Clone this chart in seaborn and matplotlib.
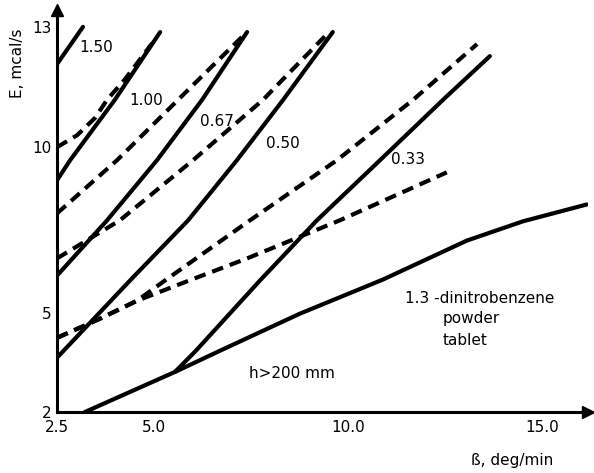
import numpy as np
import pandas as pd
import matplotlib
matplotlib.use("Agg")
import matplotlib.pyplot as plt
import seaborn as sns

# ---------------- data ----------------
# solid curves (labelled by h value)
s150_x = [2.50, 3.17]
s150_y = [12.07, 13.00]
s100_x = [2.50, 2.84, 3.99, 5.16]
s100_y = [9.00, 9.61, 11.18, 12.87]
s067_x = [2.50, 3.79, 5.08, 6.24, 7.40]
s067_y = [6.12, 7.79, 9.61, 11.18, 12.87]
s050_x = [2.50, 4.38, 5.88, 7.14, 8.33, 9.61]
s050_y = [3.64, 5.97, 7.79, 9.61, 11.18, 12.87]
s033_x = [5.54, 6.08, 7.73, 9.20, 10.83, 12.45, 13.66]
s033_y = [3.21, 3.85, 5.97, 7.79, 9.61, 11.18, 12.27]
base_x = [3.22, 5.54, 6.70, 8.76, 10.90, 13.07, 14.51, 16.16]
base_y = [2.00, 3.21, 3.85, 4.97, 6.00, 7.18, 7.76, 8.27]

# dashed curves
d1_x = [2.50, 3.02, 3.48, 3.79, 4.25, 4.64, 4.95]
d1_y = [10.00, 10.30, 10.73, 11.18, 11.69, 12.19, 12.59]
d2_x = [2.50, 4.05, 5.62, 7.29]
d2_y = [8.00, 9.61, 11.18, 12.77]
d3_x = [2.50, 4.12, 6.01, 7.81, 9.41]
d3_y = [6.64, 7.79, 9.61, 11.18, 12.77]
d4a_x = [2.50, 3.61, 4.56, 5.28, 7.40, 9.72, 11.68, 13.33]
d4a_y = [4.24, 4.82, 5.36, 5.97, 7.73, 9.61, 11.18, 12.57]
d4b_x = [2.50, 3.61, 4.56, 5.90, 7.40, 9.79, 12.55]
d4b_y = [4.24, 4.82, 5.36, 5.97, 6.64, 7.79, 9.24]

curve_labels = ["1.50", "1.00", "0.67", "0.50", "0.33"]
label_x = [3.50, 4.79, 6.62, 8.33, 11.55]
label_y = [12.49, 11.16, 10.63, 10.10, 9.64]

x_ticks = [2.5, 5.0, 10.0, 15.0]
x_ticklabels = ["2.5", "5.0", "10.0", "15.0"]
y_ticks = [2, 5, 10, 13]
y_ticklabels = ["2", "5", "10", "13"]

# ---------------- figure ----------------
sns.set_style("white")
plt.rcParams["font.family"] = ["DejaVu Sans"]
plt.rcParams["text.color"] = "black"

fig = plt.figure(figsize=(5.94, 4.73), dpi=100)
ax = fig.add_axes([57 / 594, 61 / 473, 531 / 594, 402 / 473])


def fwd(y):
    y = np.asarray(y, dtype=float)
    return np.where(y <= 10, y, 10 + (y - 10) * 40.0 / 33.0)


def inv(f):
    f = np.asarray(f, dtype=float)
    return np.where(f <= 10, f, 10 + (f - 10) * 33.0 / 40.0)


ax.set_yscale("function", functions=(fwd, inv))

LW = 3.0
solid = [(s150_x, s150_y), (s100_x, s100_y), (s067_x, s067_y),
         (s050_x, s050_y), (s033_x, s033_y), (base_x, base_y)]
dashed = [(d1_x, d1_y), (d2_x, d2_y), (d3_x, d3_y), (d4a_x, d4a_y), (d4b_x, d4b_y)]

for xs, ys in solid:
    sns.lineplot(x=xs, y=ys, sort=False, color="black", lw=LW, ax=ax,
                 solid_capstyle="round", solid_joinstyle="round")
for xs, ys in dashed:
    sns.lineplot(x=xs, y=ys, sort=False, color="black", lw=LW, ax=ax,
                 linestyle=(0, (2.8, 1.7)), dash_capstyle="butt",
                 dash_joinstyle="round")

ax.set_xlim(2.5, 16.19)
ax.set_ylim(2, 13.42)

for sp in ["top", "right"]:
    ax.spines[sp].set_visible(False)
for sp in ["left", "bottom"]:
    ax.spines[sp].set_linewidth(2.2)
    ax.spines[sp].set_color("black")

ax.set_xticks(x_ticks)
ax.set_xticklabels(x_ticklabels)
ax.set_yticks(y_ticks)
ax.set_yticklabels(y_ticklabels)
ax.minorticks_off()
ax.tick_params(axis="x", direction="in", length=9.5, width=1.6, pad=6,
               labelsize=11, colors="black")
ax.tick_params(axis="y", direction="in", length=12, width=1.6, pad=4,
               labelsize=11, colors="black")
ax.set_xlabel("")
ax.set_ylabel("")

# axis arrows
ax.plot([0], [1], marker="^", ms=9, color="black", transform=ax.transAxes, clip_on=False)
ax.plot([1], [0], marker=">", ms=9, color="black", transform=ax.transAxes, clip_on=False)

for t, x, y in zip(curve_labels, label_x, label_y):
    ax.text(x, y, t, fontsize=11, ha="center", va="center", color="black")

ax.text(8.56, 3.15, "h>200 mm", fontsize=11, ha="center", va="center", color="black")
ax.text(13.40, 5.42, "1.3 -dinitrobenzene", fontsize=11, ha="center", va="center",
        color="black")
ax.text(12.45, 4.82, "powder", fontsize=11, ha="left", va="center", color="black")
ax.text(12.45, 4.15, "tablet", fontsize=11, ha="left", va="center", color="black")

fig.text(17 / 594, 1 - 63 / 473, "E, mcal/s", rotation=90, fontsize=11,
         ha="center", va="center", color="black")
fig.text(512 / 594, 1 - 460 / 473, "ß, deg/min", fontsize=11,
         ha="center", va="center", color="black")

fig.savefig("out.png", dpi=100)
